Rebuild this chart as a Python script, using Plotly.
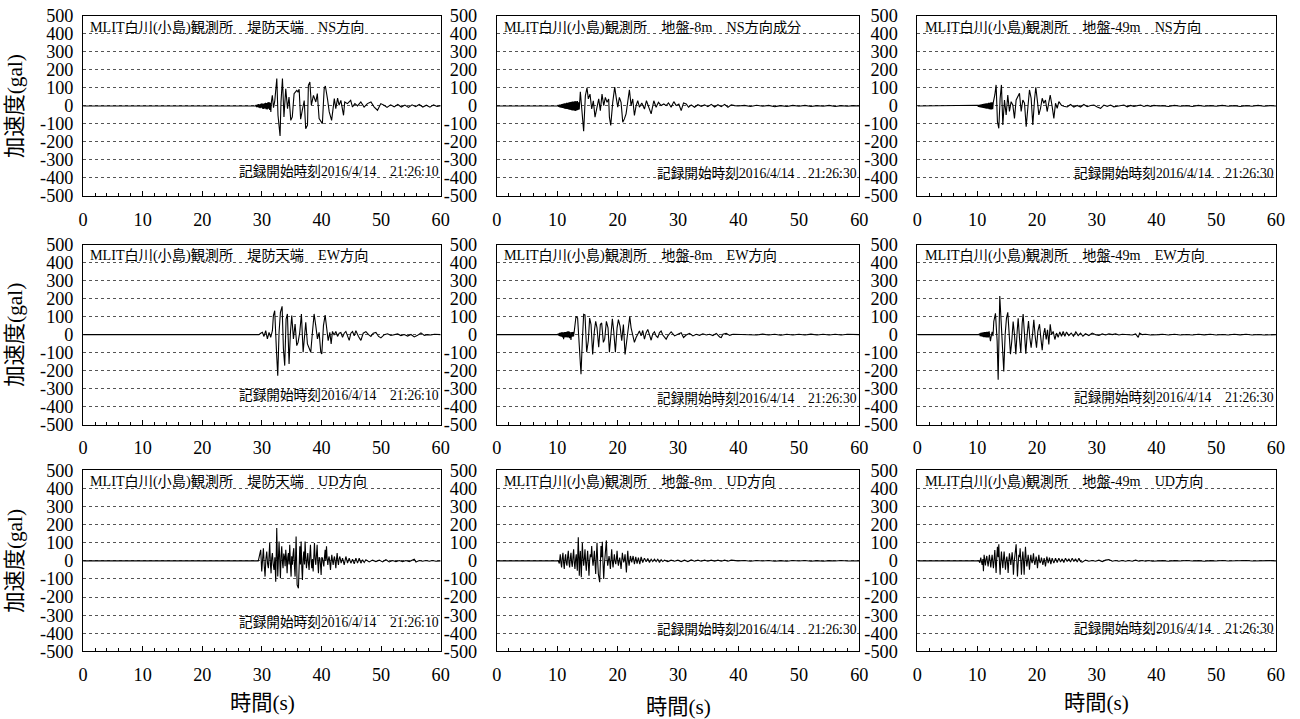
import plotly.graph_objects as go

# ---------------- data (time s, acceleration gal) ----------------
LOCATIONS = ["堤防天端", "地盤-8m", "地盤-49m"]
COMPONENTS = ["NS方向", "EW方向", "UD方向"]
STATION = "MLIT白川(小島)観測所"
START_TIMES = ["21:26:10", "21:26:30", "21:26:30"]
START_DATE = "2016/4/14"
X_TICKS = [0, 10, 20, 30, 40, 50, 60]
Y_TICKS = [-500, -400, -300, -200, -100, 0, 100, 200, 300, 400, 500]
Y_TICK_TEXT = ["-500", "-400", "-300", "-200", "-100", "0", "100", "200", "300", "400", "500"]

NS_CREST = [[0,0],[28.9,0],[29.0,5],[29.1,-6],[29.2,8],[29.3,-7],[29.4,10],[29.5,-10],[29.6,9],[29.7,-12],[29.8,12],[29.9,-10],[30.0,14],[30.1,-15],[30.2,12],[30.3,-16],[30.4,15],[30.5,-14],[30.6,18],[30.7,-18],[30.8,16],[30.9,-20],[31.0,20],[31.1,-15],[31.2,22],[31.3,-22],[31.4,18],[31.5,-33],[31.6,25],[31.75,59],[31.95,-10],[32.15,25],[32.5,152],[32.7,-52],[33.05,-167],[33.2,20],[33.45,152],[33.7,-61],[34.0,96],[34.3,-15],[34.55,50],[34.85,-80],[35.1,-61],[35.4,68],[35.85,87],[36.05,78],[36.25,93],[36.5,-74],[36.8,-20],[37.1,30],[37.35,-126],[37.65,-107],[37.8,115],[38.05,133],[38.3,4],[38.65,59],[39.05,22],[39.3,69],[39.6,-70],[39.9,-89],[40.15,-98],[40.45,96],[40.65,111],[41.0,41],[41.3,-33],[41.7,-80],[42.15,41],[42.4,-15],[42.7,44],[42.95,4],[43.25,31],[43.7,-52],[43.9,22],[44.35,13],[44.9,31],[45.2,-6],[45.6,13],[46.05,0],[46.6,22],[47.15,-6],[47.7,13],[48.3,22],[48.85,-6],[49.4,-24],[49.95,13],[50.5,4],[51.0,-8],[51.6,6],[52.2,-5],[52.8,8],[53.4,-6],[54.0,5],[54.6,-8],[55.2,6],[55.8,-4],[56.4,8],[57.0,-6],[57.6,4],[58.2,-7],[58.8,6],[59.4,-3],[60,2]]

NS_GL8 = [[0,0],[10.05,0],[10.15,5],[10.25,-5],[10.35,7],[10.45,-8],[10.55,8],[10.65,-10],[10.75,10],[10.85,-11],[10.95,12],[11.05,-12],[11.15,14],[11.25,-15],[11.35,14],[11.45,-16],[11.55,18],[11.65,-17],[11.75,18],[11.85,-20],[11.95,20],[12.05,-21],[12.15,22],[12.25,-22],[12.35,23],[12.45,-25],[12.55,24],[12.65,-25],[12.75,25],[12.85,-26],[12.95,27],[13.05,-28],[13.15,26],[13.25,-25],[13.35,28],[13.45,-22],[13.55,20],[13.65,-20],[13.83,79],[14.1,-35],[14.38,-141],[14.66,57],[14.93,101],[15.15,39],[15.43,66],[15.71,-17],[15.98,29],[16.26,-62],[16.59,2],[16.87,39],[17.14,-26],[17.42,66],[17.7,2],[17.97,48],[18.25,20],[18.52,39],[18.64,-62],[18.86,-108],[19.19,20],[19.52,105],[19.8,39],[20.02,-7],[20.29,48],[20.57,20],[20.85,-90],[21.12,-72],[21.4,-44],[21.68,39],[21.95,90],[22.23,2],[22.5,39],[22.78,-53],[23.06,2],[23.33,29],[23.61,-7],[24.0,17],[24.44,-17],[24.77,29],[25.21,-17],[25.55,-44],[25.99,29],[26.37,-7],[26.76,20],[27.2,2],[27.65,11],[28.03,2],[28.42,17],[28.86,-7],[29.3,24],[29.69,2],[30.13,11],[30.52,-26],[30.91,17],[31.35,11],[31.74,-7],[32.18,6],[32.73,-7],[33.28,7],[33.84,-2],[34.39,6],[34.94,-4],[35.5,9],[36.05,-6],[36.6,7],[37.15,-4],[37.71,9],[38.26,-7],[38.81,6],[39.37,2],[39.92,0],[41,3],[42,-3],[43,4],[44,-2],[45,3],[46,-4],[47,2],[48,-3],[49,3],[50,-2],[51,3],[52,-3],[53,2],[54,-2],[55,3],[56,-3],[57,2],[58,-2],[59,2],[60,0]]

NS_GL49 = [[0,0],[10.0,0],[10.1,4],[10.2,-5],[10.3,6],[10.4,-6],[10.5,7],[10.6,-8],[10.7,9],[10.8,-9],[10.9,10],[11.0,-11],[11.1,12],[11.2,-12],[11.3,13],[11.4,-14],[11.5,14],[11.6,-15],[11.7,15],[11.8,-15],[11.9,17],[12.0,-18],[12.1,18],[12.2,-19],[12.3,20],[12.4,-20],[12.5,20],[12.6,-18],[12.7,20],[12.95,61],[13.17,117],[13.39,-87],[13.62,-124],[13.84,43],[14.06,117],[14.29,-106],[14.57,33],[14.85,-50],[15.12,61],[15.4,-31],[15.68,24],[15.96,6],[16.24,-69],[16.52,33],[16.8,52],[17.08,70],[17.36,-31],[17.64,33],[17.92,15],[18.2,-115],[18.47,-13],[18.75,89],[19.03,43],[19.31,-106],[19.59,33],[19.81,104],[20.09,24],[20.32,-50],[20.6,-13],[20.88,43],[21.15,15],[21.43,33],[21.71,-31],[21.99,24],[22.22,61],[22.55,-4],[22.83,-69],[23.11,15],[23.39,-13],[23.67,24],[24.11,3],[24.5,-2],[25.06,-6],[25.62,8],[26.18,-6],[26.74,3],[27.3,-6],[27.85,8],[28.41,-4],[28.97,3],[29.53,5],[30.09,-6],[30.65,-13],[31.2,5],[31.76,-2],[32.32,5],[32.88,-5],[33.44,-2],[34.0,3],[34.55,5],[35.11,-5],[35.67,3],[36.23,-2],[36.79,3],[37.35,5],[37.9,-3],[38.46,3],[39.02,-2],[39.58,3],[40.42,0],[41,2],[42,-3],[43,3],[44,-2],[45,2],[46,-3],[47,3],[48,-2],[49,2],[50,-2],[51,3],[52,-2],[53,2],[54,-3],[55,2],[56,-2],[57,3],[58,-2],[59,2],[60,0]]

EW_CREST = [[0,0],[29.5,0],[29.8,8],[30.08,13],[30.35,-10],[30.64,22],[30.92,-24],[31.2,13],[31.48,-15],[31.76,22],[31.93,106],[32.15,133],[32.43,-80],[32.66,-228],[32.88,13],[33.11,124],[33.39,157],[33.61,-80],[33.83,-172],[34.06,87],[34.28,115],[34.56,-163],[34.79,13],[35.01,106],[35.29,-24],[35.57,59],[35.85,-61],[36.07,-43],[36.35,13],[36.63,115],[36.92,-98],[37.14,13],[37.36,69],[37.64,-52],[37.92,-80],[38.2,-98],[38.48,13],[38.76,115],[39.04,50],[39.32,-24],[39.6,13],[39.88,-98],[40.05,-107],[40.33,50],[40.61,109],[40.84,31],[41.12,-33],[41.4,13],[41.62,-52],[41.84,18],[42.12,-2],[42.41,18],[42.69,-10],[42.97,8],[43.25,12],[43.53,-15],[43.81,8],[44.09,18],[44.37,-10],[44.65,-32],[44.93,8],[45.21,17],[45.49,-6],[45.77,22],[46.21,-10],[46.61,-32],[47.0,8],[47.45,17],[47.9,0],[48.29,-10],[48.68,8],[49.13,12],[49.58,-10],[49.97,-18],[50.53,0],[51.09,5],[51.65,-5],[52.21,-2],[52.77,4],[53.33,-5],[53.89,1],[54.45,-8],[55.01,1],[55.57,-13],[56.13,-4],[56.69,10],[57.25,-4],[57.81,0],[58.37,-2],[58.93,2],[59.77,0],[60,0]]

EW_GL8 = [[0,0],[10.07,0],[10.2,6],[10.3,-7],[10.4,10],[10.5,-10],[10.6,12],[10.7,-12],[10.8,14],[10.9,-15],[11.0,12],[11.06,-25],[11.15,14],[11.25,-15],[11.35,15],[11.45,-14],[11.55,16],[11.65,-15],[11.75,18],[11.85,-16],[11.95,18],[12.05,-20],[12.15,15],[12.28,-30],[12.4,14],[12.5,-12],[12.6,15],[12.7,-10],[12.83,20],[13.11,101],[13.38,92],[13.66,-70],[13.94,-220],[14.16,-34],[14.38,113],[14.6,110],[14.88,-97],[15.15,-34],[15.37,92],[15.6,56],[15.87,-110],[16.15,20],[16.37,74],[16.59,38],[16.87,-70],[17.14,56],[17.36,65],[17.64,-43],[17.86,-25],[18.14,74],[18.41,38],[18.64,-97],[18.91,38],[19.13,88],[19.35,20],[19.63,-97],[19.91,38],[20.13,83],[20.4,47],[20.68,-34],[20.96,56],[21.23,-110],[21.51,-34],[21.73,38],[22.01,101],[22.23,38],[22.5,-7],[22.78,-43],[23.06,-16],[23.33,2],[23.61,20],[23.89,-7],[24.16,23],[24.44,-25],[24.72,11],[24.99,29],[25.27,-7],[25.55,-31],[25.82,5],[26.1,16],[26.37,-7],[26.65,-16],[26.93,11],[27.2,20],[27.48,-2],[27.76,-16],[28.03,-25],[28.31,-7],[28.59,2],[28.86,16],[29.14,5],[29.42,-7],[29.97,2],[30.52,11],[30.91,-16],[31.35,-2],[31.9,7],[32.46,-7],[33.01,2],[33.56,-4],[34.11,5],[34.67,-2],[35.22,2],[35.77,-5],[36.33,7],[36.88,-13],[37.15,-16],[37.43,2],[37.98,7],[38.54,-4],[39.09,2],[39.92,2],[41,-2],[42,2],[43,-2],[44,3],[45,-2],[46,2],[47,-3],[48,2],[49,-2],[50,2],[51,-2],[52,3],[53,-2],[54,2],[55,-2],[56,2],[57,-2],[58,2],[59,-1],[60,0]]

EW_GL49 = [[0,0],[10.27,0],[10.4,6],[10.5,-8],[10.6,10],[10.7,-10],[10.8,12],[10.9,-12],[11.0,13],[11.1,-14],[11.2,14],[11.3,-14],[11.4,15],[11.5,-15],[11.6,16],[11.7,-15],[11.8,16],[11.9,-16],[12.0,18],[12.1,-15],[12.22,-36],[12.35,-10],[12.5,15],[12.65,-8],[12.78,73],[13.06,118],[13.34,-36],[13.51,-251],[13.67,0],[13.78,215],[14.01,73],[14.23,-73],[14.45,-204],[14.68,0],[14.9,91],[15.12,124],[15.35,0],[15.57,-109],[15.79,-36],[16.02,73],[16.24,0],[16.47,-109],[16.69,18],[16.86,91],[17.08,-18],[17.3,-100],[17.53,64],[17.69,115],[17.92,0],[18.14,-106],[18.36,0],[18.59,76],[18.81,-18],[19.03,-73],[19.26,0],[19.48,82],[19.7,-9],[19.93,-73],[20.15,18],[20.43,58],[20.65,-18],[20.88,-87],[21.1,0],[21.32,36],[21.55,-27],[21.77,27],[21.99,-55],[22.22,58],[22.44,0],[22.72,18],[23.0,-27],[23.28,9],[23.55,-15],[23.83,15],[24.11,-9],[24.39,18],[24.67,-9],[24.95,15],[25.34,-5],[25.73,9],[26.12,-9],[26.51,15],[26.9,-5],[27.3,9],[27.69,-9],[28.13,5],[28.69,-5],[29.25,9],[29.81,0],[30.37,-5],[30.93,4],[31.48,-2],[32.04,4],[32.6,0],[33.16,4],[33.72,-2],[34.27,2],[34.83,0],[35.39,2],[35.95,-2],[36.51,4],[36.95,-15],[37.18,9],[37.62,0],[38.18,2],[39.02,-2],[40.42,0],[41,2],[42,-2],[43,2],[44,-2],[45,1],[46,-2],[47,2],[48,-1],[49,2],[50,-2],[51,1],[52,-2],[53,2],[54,-1],[55,2],[56,-2],[57,1],[58,-2],[59,1],[60,0]]

UD_CREST = [[0,0],[29.4,0],[29.6,30],[29.8,61],[29.97,-59],[30.1,20],[30.25,70],[30.4,-30],[30.53,-87],[30.67,10],[30.81,52],[30.95,-15],[31.09,-41],[31.2,30],[31.31,98],[31.43,-20],[31.54,-69],[31.65,15],[31.76,43],[31.9,-20],[32.04,-50],[32.18,20],[32.32,-115],[32.49,181],[32.66,-87],[32.88,107],[33.0,-30],[33.11,-96],[33.22,30],[33.33,80],[33.45,-10],[33.55,-41],[33.67,40],[33.78,24],[33.9,-30],[34.0,61],[34.12,10],[34.23,-69],[34.34,20],[34.45,43],[34.56,-20],[34.67,89],[34.8,-30],[34.9,-87],[35.0,25],[35.12,-22],[35.24,40],[35.35,70],[35.46,-30],[35.57,-87],[35.74,135],[35.91,-133],[36.13,-152],[36.25,20],[36.36,80],[36.47,-20],[36.58,107],[36.7,-40],[36.8,-106],[36.92,10],[37.03,52],[37.14,-20],[37.25,107],[37.37,10],[37.48,-41],[37.6,10],[37.7,43],[37.8,-10],[37.92,-50],[38.04,30],[38.15,89],[38.26,0],[38.37,-41],[38.48,10],[38.6,-59],[38.71,20],[38.82,98],[38.93,10],[39.04,-22],[39.15,30],[39.27,89],[39.38,-10],[39.49,-69],[39.6,20],[39.72,15],[39.83,-20],[39.94,-78],[40.05,20],[40.16,15],[40.28,-10],[40.39,-31],[40.5,20],[40.61,61],[40.72,0],[40.84,80],[40.95,10],[41.06,-22],[41.17,10],[41.28,24],[41.4,-10],[41.51,-50],[41.62,0],[41.73,33],[41.85,0],[41.96,-22],[42.07,10],[42.18,24],[42.3,-10],[42.41,-41],[42.52,10],[42.63,43],[42.74,0],[42.85,-22],[42.96,10],[43.08,24],[43.3,-13],[43.53,15],[43.81,-22],[44.09,24],[44.37,-13],[44.65,15],[44.93,-13],[45.21,9],[45.49,-17],[45.77,15],[46.05,-13],[46.33,15],[46.61,-13],[46.89,6],[47.17,-9],[47.45,6],[48.01,-6],[48.57,4],[49.13,-4],[49.69,4],[50.25,-6],[50.81,6],[51.37,-6],[51.93,2],[52.49,-4],[53.05,2],[53.61,-4],[54.17,2],[54.73,-4],[55.29,6],[55.57,9],[55.85,-6],[56.41,2],[56.97,-2],[57.53,2],[58.09,-2],[58.65,2],[59.21,-2],[59.77,0],[60,0]]

UD_GL8 = [[0,0],[10.18,0],[10.35,-15],[10.51,36],[10.62,-10],[10.73,-36],[10.84,15],[10.95,45],[11.06,-10],[11.17,-45],[11.28,10],[11.39,36],[11.5,-10],[11.61,-27],[11.72,20],[11.84,55],[11.95,-10],[12.06,-36],[12.17,15],[12.28,45],[12.39,-10],[12.5,-33],[12.61,20],[12.72,64],[12.83,-10],[12.94,-45],[13.05,10],[13.16,36],[13.25,-20],[13.33,-55],[13.49,131],[13.66,-82],[13.75,10],[13.83,55],[13.99,-91],[14.16,100],[14.27,20],[14.38,-27],[14.49,10],[14.6,64],[14.71,-10],[14.82,-55],[14.93,10],[15.04,55],[15.15,-10],[15.26,-82],[15.37,0],[15.48,36],[15.6,20],[15.71,82],[15.82,10],[15.93,-27],[16.04,10],[16.15,55],[16.26,-10],[16.37,-73],[16.48,20],[16.59,100],[16.7,0],[16.81,-73],[17.03,-118],[17.14,10],[17.25,82],[17.36,20],[17.47,106],[17.58,-10],[17.7,-100],[17.81,-20],[17.92,18],[18.03,40],[18.14,113],[18.25,10],[18.36,-27],[18.47,0],[18.58,27],[18.69,0],[18.8,-45],[18.91,10],[19.02,64],[19.13,0],[19.24,-36],[19.35,0],[19.46,36],[19.57,0],[19.69,-18],[19.8,10],[19.91,55],[20.02,0],[20.13,-27],[20.24,0],[20.35,18],[20.46,-10],[20.57,-45],[20.68,0],[20.79,45],[20.9,10],[21.01,-9],[21.12,10],[21.23,36],[21.34,-10],[21.45,-64],[21.56,0],[21.68,55],[21.79,0],[21.9,-27],[22.01,0],[22.12,27],[22.34,-9],[22.56,27],[22.78,-18],[23.0,22],[23.22,-15],[23.44,18],[23.67,-18],[23.89,22],[24.16,-9],[24.44,15],[24.72,-5],[24.99,13],[25.27,-9],[25.55,9],[25.82,-4],[26.1,9],[26.37,-4],[26.65,9],[26.93,-9],[27.2,7],[27.48,-4],[27.76,4],[28.31,-4],[28.86,4],[29.41,-2],[29.97,4],[30.52,-4],[31.07,4],[31.63,-4],[32.18,5],[32.73,-2],[33.28,4],[33.84,-2],[34.39,4],[34.94,-2],[35.5,4],[36.05,-2],[36.6,4],[37.15,-2],[37.71,4],[38.26,-2],[38.81,4],[39.92,0],[41,2],[42,-2],[43,2],[44,-1],[45,2],[46,-2],[47,1],[48,-2],[49,2],[50,-1],[51,2],[52,-2],[53,1],[54,-2],[55,1],[56,-1],[57,2],[58,-1],[59,1],[60,0]]

UD_GL49 = [[0,0],[10.27,0],[10.45,-10],[10.6,18],[10.72,-5],[10.83,-22],[10.95,10],[11.05,-58],[11.16,33],[11.27,-5],[11.38,-25],[11.5,10],[11.61,27],[11.72,-5],[11.83,-31],[11.94,5],[12.05,33],[12.17,-5],[12.28,-36],[12.39,5],[12.5,33],[12.61,-5],[12.72,-40],[12.84,10],[12.95,60],[13.06,-10],[13.17,-67],[13.28,20],[13.39,78],[13.5,20],[13.62,91],[13.73,-10],[13.84,-76],[13.95,0],[14.06,51],[14.17,0],[14.29,-40],[14.4,10],[14.51,51],[14.62,0],[14.73,-49],[14.85,0],[14.96,24],[15.07,-10],[15.18,-67],[15.29,0],[15.4,42],[15.51,10],[15.63,-22],[15.74,10],[15.85,47],[15.96,0],[16.07,-76],[16.18,-10],[16.3,24],[16.41,40],[16.52,91],[16.63,0],[16.74,-86],[16.85,-20],[16.97,33],[17.08,20],[17.19,69],[17.3,0],[17.41,-76],[17.52,0],[17.64,51],[17.75,0],[17.86,-76],[17.97,10],[18.08,78],[18.2,10],[18.31,-31],[18.42,0],[18.53,33],[18.64,0],[18.75,-49],[18.86,0],[18.98,33],[19.09,0],[19.2,-13],[19.31,10],[19.42,42],[19.53,0],[19.65,-22],[19.76,0],[19.87,24],[19.98,0],[20.09,-40],[20.2,0],[20.32,33],[20.43,0],[20.54,-13],[20.65,0],[20.76,18],[20.99,-22],[21.21,15],[21.43,-31],[21.66,24],[21.88,-13],[22.1,18],[22.33,-18],[22.55,15],[22.83,-13],[23.11,15],[23.39,-9],[23.67,15],[23.95,-7],[24.22,11],[24.5,-9],[24.78,15],[25.06,-4],[25.34,11],[25.62,-7],[25.9,15],[26.18,-4],[26.46,11],[26.74,-7],[27.02,15],[27.3,-4],[27.57,-7],[28.13,4],[28.69,-2],[29.25,2],[29.81,-2],[30.37,4],[30.93,-4],[31.48,4],[32.04,7],[32.6,-2],[33.16,2],[33.72,-2],[34.27,2],[34.83,-2],[35.39,2],[35.95,-2],[36.51,4],[37.07,-2],[37.62,2],[38.18,-2],[38.74,2],[39.3,-2],[40.42,0],[41,1],[42,-2],[43,1],[44,-1],[45,2],[46,-1],[47,1],[48,-2],[49,1],[50,-1],[51,2],[52,-1],[53,1],[54,-1],[55,2],[56,-1],[57,1],[58,-1],[59,1],[60,0]]

RECORDS = [[NS_CREST, NS_GL8, NS_GL49],
           [EW_CREST, EW_GL8, EW_GL49],
           [UD_CREST, UD_GL8, UD_GL49]]

# ---------------- layout ----------------
# The figure is shown inside an 8px page margin, i.e. in a 1284x703 area;
# target positions (window pixels) are mapped into that area.
W, H = 1300, 719
OFF = 8
VW, VH = W - 2 * OFF, H - 2 * OFF
FS = W / VW  # font compensation for the downscale
COL_PX = [(86, 443), (499, 861), (919, 1277)]
ROW_PX = [(14, 195), (244, 425), (471, 653)]
STAMP_Y = [[-365, -375, -375], [-340, -357, -350], [-340, -380, -375]]
YLAB_STANDOFF = [5, 15, 15]
FONT = "Liberation Serif, Noto Sans CJK JP, serif"


def px_x(v):
    return (v - OFF) / VW


def px_y(v):
    return 1 - (v - OFF) / VH


fig = go.Figure()
layout = dict(width=W, height=H, autosize=False, margin=dict(l=0, r=0, t=0, b=0, pad=0),
              paper_bgcolor="white", plot_bgcolor="white", showlegend=False,
              font=dict(family=FONT, color="black"))
annotations = []

for r in range(3):
    for c in range(3):
        k = r * 3 + c + 1
        sx = "" if k == 1 else str(k)
        rec = RECORDS[r][c]
        fig.add_trace(go.Scatter(x=[p[0] for p in rec], y=[p[1] for p in rec],
                                 mode="lines", line=dict(color="black", width=1.1),
                                 xaxis="x" + sx, yaxis="y" + sx, hoverinfo="skip"))
        x0, x1 = COL_PX[c]
        y0, y1 = ROW_PX[r]
        layout["xaxis" + sx] = dict(
            domain=[px_x(x0), px_x(x1)], anchor="y" + sx, range=[0, 60],
            tickvals=X_TICKS, ticks="inside", ticklen=5, tickcolor="black",
            minor=dict(dtick=2, ticks="inside", ticklen=3, tickcolor="black"),
            showgrid=False, zeroline=False, showline=True, mirror=True,
            linecolor="black", linewidth=1, ticklabelstandoff=7,
            tickfont=dict(family=FONT, size=18 * FS, color="black"))
        layout["yaxis" + sx] = dict(
            domain=[px_y(y1), px_y(y0)], anchor="x" + sx, range=[-500, 500],
            tickvals=Y_TICKS, ticktext=Y_TICK_TEXT, ticks="", showgrid=True,
            gridcolor="#555555", griddash="dot", gridwidth=1, zeroline=False,
            showline=True, mirror=True, linecolor="black", linewidth=1,
            ticklabelstandoff=YLAB_STANDOFF[c],
            tickfont=dict(family=FONT, size=18 * FS, color="black"))
        dref = ("x" if k == 1 else "x" + sx) + " domain"
        annotations.append(dict(
            text=f"{STATION}　{LOCATIONS[c]}　{COMPONENTS[r]}" + ("成分" if (r == 0 and c == 1) else ""),
            xref=dref, yref="y" + sx, x=0.015, y=437, xanchor="left", yanchor="middle",
            showarrow=False, font=dict(family=FONT, size=14 * FS, color="black")))
        annotations.append(dict(
            text=f"記録開始時刻{START_DATE}　{START_TIMES[c]}",
            xref=dref, yref="y" + sx, x=1.0, y=STAMP_Y[r][c], xanchor="right",
            yanchor="middle", showarrow=False,
            font=dict(family=FONT, size=13.5 * FS, color="black")))

for r in range(3):
    yc = (ROW_PX[r][0] + ROW_PX[r][1]) / 2
    annotations.append(dict(text="加速度(gal)", xref="paper", yref="paper",
                            x=px_x(18), y=px_y(yc), textangle=-90, showarrow=False,
                            xanchor="center", yanchor="middle",
                            font=dict(family=FONT, size=21 * FS, color="black")))
for cx, cy in [(265, 705), (680, 709), (1098, 705)]:
    annotations.append(dict(text="時間(s)", xref="paper", yref="paper",
                            x=px_x(cx), y=px_y(cy), showarrow=False,
                            xanchor="center", yanchor="middle",
                            font=dict(family=FONT, size=21 * FS, color="black")))

layout["annotations"] = annotations
fig.update_layout(**layout)
fig.write_html("out.html")
